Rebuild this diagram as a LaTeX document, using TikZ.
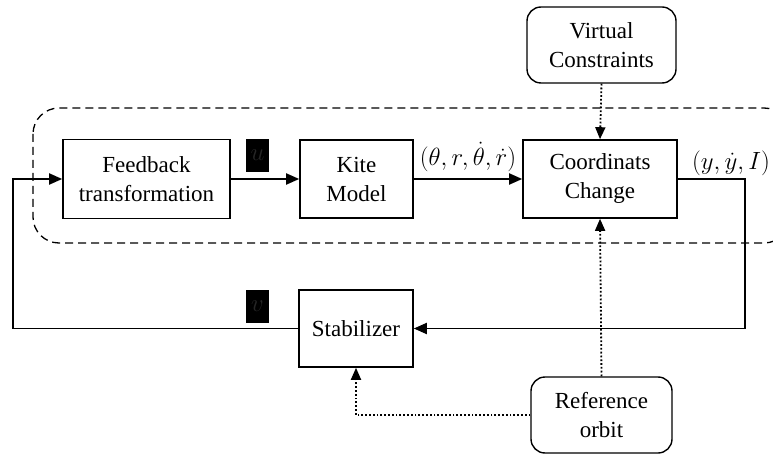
\documentclass[tikz,border=0pt]{standalone}
\usepackage{fontspec}
\setmainfont{Liberation Serif}
\usetikzlibrary{arrows.meta}
\begin{document}
\begin{tikzpicture}[x=1pt,y=-1pt,
  every node/.style={font=\fontsize{23}{29}\selectfont, align=center, inner sep=0pt},
  blk/.style={draw, line width=1.6pt, minimum width=#1},
  rblk/.style={draw, line width=1.4pt, rounded corners=14pt, minimum width=#1},
  sig/.style={line width=1.8pt, -{Triangle[length=13pt,width=11pt]}},
  sigplain/.style={line width=1.8pt},
  dot/.style={line width=1.8pt, dotted, -{Triangle[length=12pt,width=10pt]}},
  dotplain/.style={line width=1.8pt, dotted},
  blackbox/.style={fill=black, text=black!85, minimum width=23pt, minimum height=33pt, font=\fontsize{23}{29}\selectfont\itshape}
]
\useasboundingbox (0,0) rectangle (773,454);
% dashed enclosure
\draw[line width=1.3pt, dash pattern=on 8pt off 5pt, rounded corners=26pt] (33,108) rectangle (790,243);

\node[blk=167pt, minimum height=79pt] (fb) at (146.5,179) {Feedback\\transformation};
\node[blk=113pt, minimum height=78pt] (kite) at (356.5,179) {Kite\\Model};
\node[blk=154pt, minimum height=78pt] (cc) at (600,179) {Coordinats\\Change};
\node[rblk=149pt, minimum height=76pt] (vc) at (601.5,45) {Virtual\\Constraints};
\node[blk=114pt, minimum height=77pt] (stab) at (356,328.5) {Stabilizer};
\node[rblk=141pt, minimum height=76pt] (ref) at (601.5,415) {Reference\\orbit};

\node[blackbox] (u) at (257.5,155.5) {$u$};
\node[blackbox] (v) at (257.5,306.5) {$v$};
\node (th) at (468,157) {$(\theta,r,\dot\theta,\dot r)$};
\node (yy) at (731,163) {$(y,\dot y,I)$};

\coordinate (rc) at (745,179);
\coordinate (rb) at (745,328.5);
\coordinate (lb) at (13,328.5);
\coordinate (lt) at (13,179);

\draw[sig] (fb.east) -- (kite.west);
\draw[sig] (kite.east) -- (cc.west);
\draw[sig] (cc.east) -- (rc) -- (rb) -- (stab.east);
\draw[sig] (stab.west) -- (lb) -- (lt) -- (fb.west);
\draw[dot] (vc.south) -- (cc.north);
\draw[dot] (ref.north) -- (cc.south);
\draw[dot] (ref.west) -| (stab.south);
\end{tikzpicture}
\end{document}
